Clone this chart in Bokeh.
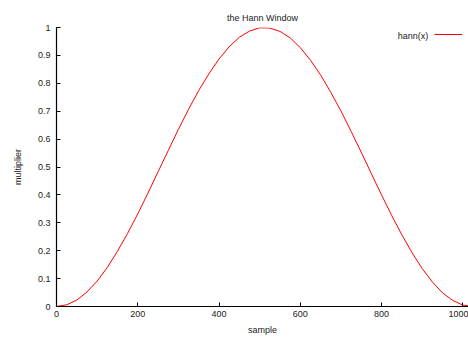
from bokeh.plotting import figure
from bokeh.models import Range1d, FixedTicker, Label, Legend, LegendItem
from bokeh.core.properties import value
from bokeh.embed import file_html
from bokeh.resources import INLINE

# data
sample = [0, 25, 50, 75, 100, 125, 150, 175, 200, 225, 250, 275, 300, 325, 350,
          375, 400, 425, 450, 475, 500, 525, 550, 575, 600, 625, 650, 675, 700,
          725, 750, 775, 800, 825, 850, 875, 900, 925, 950, 975, 1000, 1023]
hann = [0.000, 0.006, 0.023, 0.052, 0.091, 0.140, 0.198, 0.262, 0.332, 0.406,
        0.483, 0.559, 0.635, 0.707, 0.774, 0.834, 0.887, 0.931, 0.965, 0.987,
        0.999, 0.998, 0.986, 0.963, 0.928, 0.883, 0.830, 0.768, 0.701, 0.628,
        0.553, 0.476, 0.400, 0.326, 0.257, 0.193, 0.136, 0.088, 0.049, 0.022,
        0.005, 0.000]

x_ticks = [0, 200, 400, 600, 800, 1000]
x_tick_labels = ["0", "200", "400", "600", "800", "1000"]
y_ticks = [0, 0.1, 0.2, 0.3, 0.4, 0.5, 0.6, 0.7, 0.8, 0.9, 1.0]
y_tick_labels = ["0", "0.1", "0.2", "0.3", "0.4", "0.5", "0.6", "0.7", "0.8", "0.9", "1"]

FONT = "Liberation Sans"
FS = "9px"

p = figure(width=468, height=337, output_backend="svg", toolbar_location=None,
           x_range=Range1d(0, 1014), y_range=Range1d(0, 1),
           min_border_left=56, min_border_right=0, min_border_top=27,
           min_border_bottom=30, title="the Hann Window")
p.outline_line_color = None
p.grid.visible = False
p.background_fill_color = "white"
p.border_fill_color = "white"

p.title.text_font = FONT
p.title.text_font_size = FS
p.title.text_font_style = "normal"
p.title.align = "center"
p.title.text_color = "#222222"
p.title.standoff = 10
p.title.offset = 0

for ax in (p.xaxis[0], p.yaxis[0]):
    ax.major_tick_in = 4
    ax.major_tick_out = 0
    ax.minor_tick_in = 0
    ax.minor_tick_out = 0
    ax.axis_line_color = "black"
    ax.axis_line_width = 1.2
    ax.major_tick_line_color = "black"
    ax.major_label_text_font = FONT
    ax.major_label_text_font_size = FS
    ax.major_label_text_color = "#222222"
    ax.axis_label_text_font = FONT
    ax.axis_label_text_font_size = FS
    ax.axis_label_text_font_style = "normal"
    ax.axis_label_text_color = "#222222"

p.xaxis.ticker = FixedTicker(ticks=x_ticks)
p.xaxis.major_label_overrides = dict(zip(x_ticks, x_tick_labels))
p.yaxis.ticker = FixedTicker(ticks=y_ticks)
p.yaxis.major_label_overrides = dict(zip(y_ticks, y_tick_labels))
p.xaxis.axis_label = "sample"
p.yaxis.axis_label = "multiplier"
p.xaxis.major_label_standoff = 4
p.yaxis.major_label_standoff = 6
p.xaxis.axis_label_standoff = 5
p.yaxis.axis_label_standoff = 12

r = p.line(sample, hann, line_color="#ff0000", line_width=1)

legend = Legend(items=[LegendItem(label=value(""), renderers=[r])],
                location=(378, 268), glyph_width=28, glyph_height=8,
                label_width=0, label_standoff=0, padding=0, margin=0, spacing=0,
                border_line_alpha=0, background_fill_alpha=0)
p.add_layout(legend, "center")

p.add_layout(Label(x=915, y=0.971, text="hann(x)", text_align="right",
                   text_baseline="middle", text_font=FONT, text_font_size=FS,
                   text_color="#222222"))

open("out.html", "w").write(file_html(p, INLINE))
